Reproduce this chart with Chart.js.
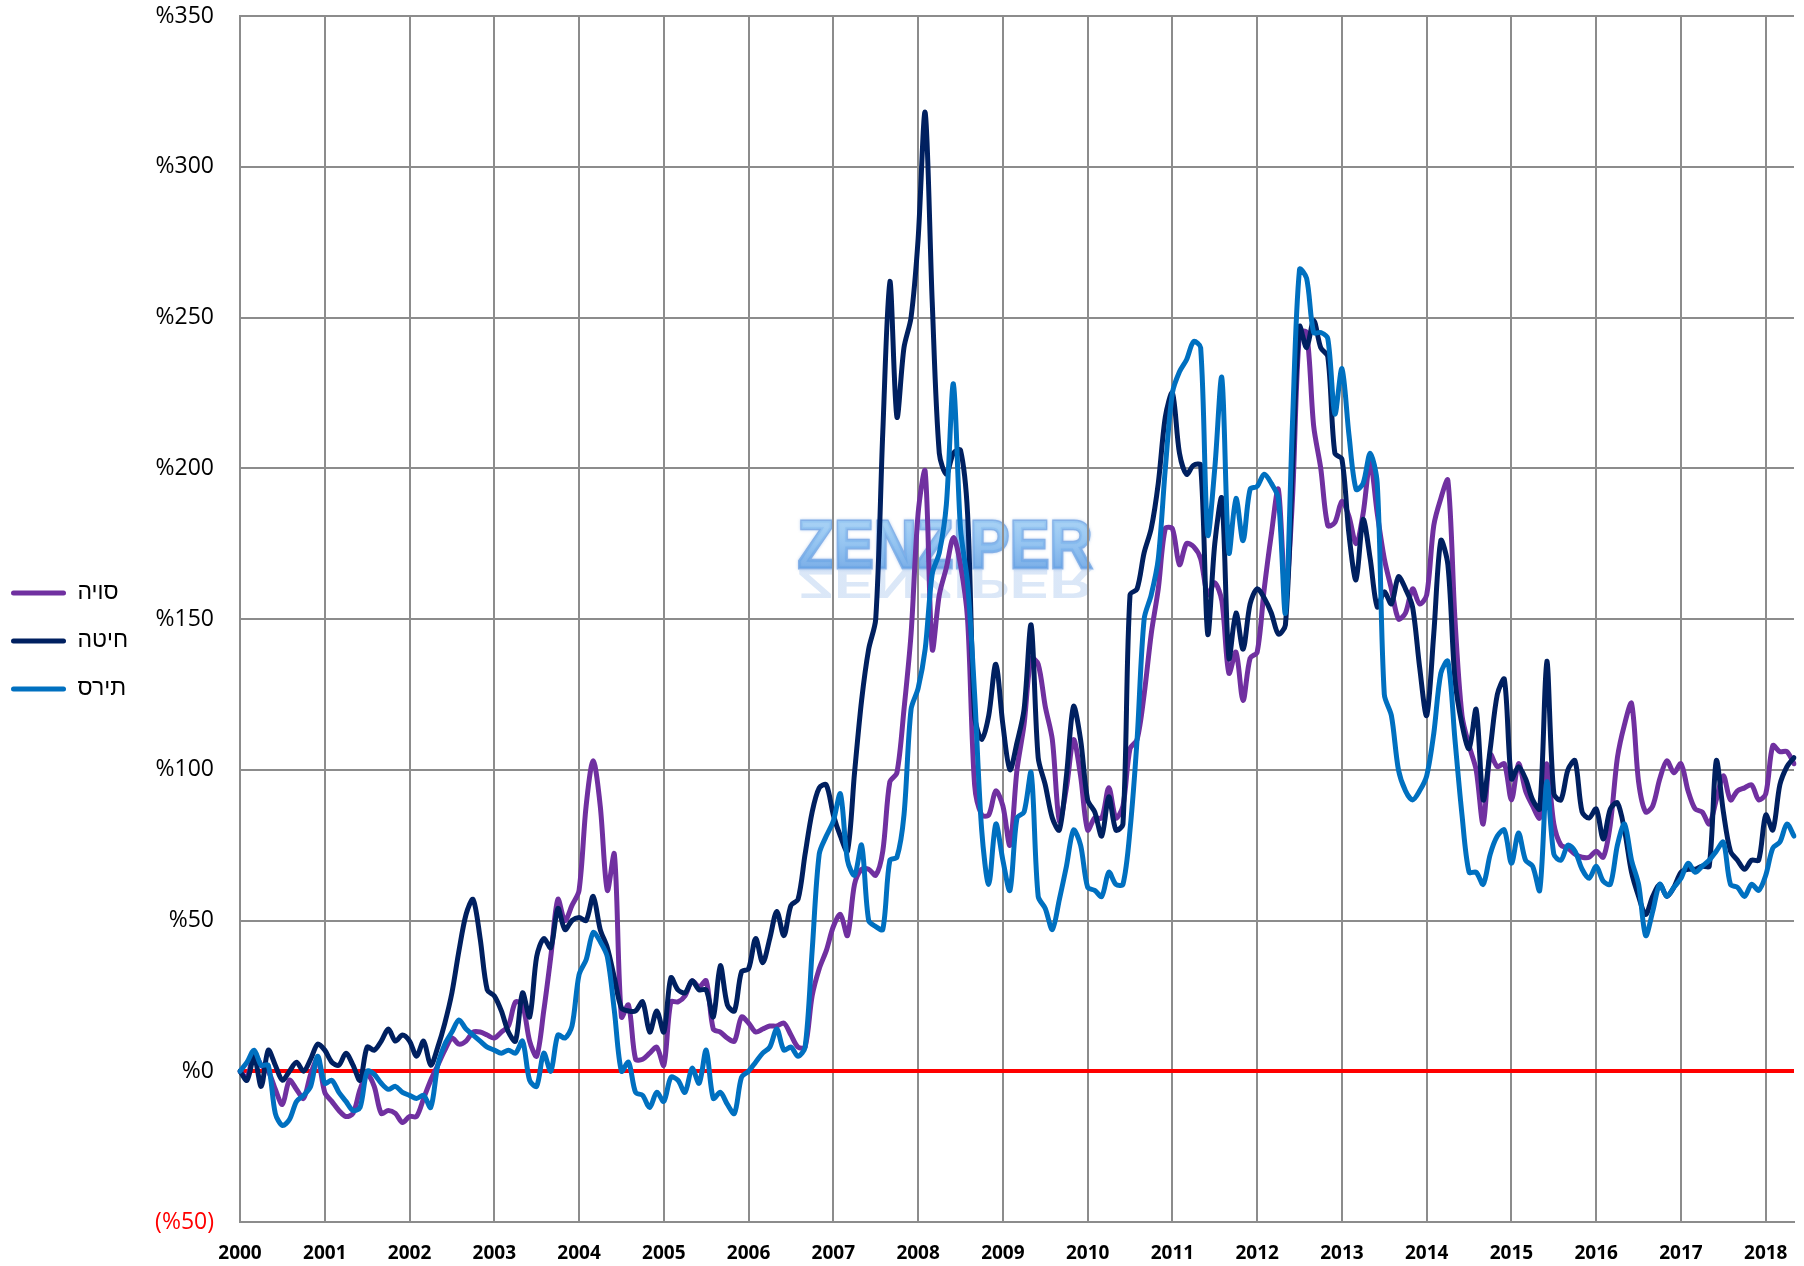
<!DOCTYPE html>
<html>
<head>
<meta charset="utf-8">
<script src="https://cdn.jsdelivr.net/npm/chart.js@4.4.1/dist/chart.umd.min.js"></script>
<style>
  html, body { margin: 0; padding: 0; background: #fff; }
  #wrap { width: 1804px; height: 1266px; position: relative; }
</style>
</head>
<body>
<div id="wrap"><canvas id="pricesChart"></canvas></div>
<script>
// Price change since 2000 (%), monthly, Jan 2000 - May 2018

const years = [2000, 2001, 2002, 2003, 2004, 2005, 2006, 2007, 2008, 2009,
               2010, 2011, 2012, 2013, 2014, 2015, 2016, 2017, 2018];

const soyLabel = 'סויה';
const wheatLabel = 'חיטה';
const cornLabel = 'תירס';

const soy = [
    0, -2, 6, 2, 0, -6, -11, -3, -6, -9, -1, 4,             // 2000
    -7, -10, -13, -15, -14, -6, -1, -5, -14, -13, -14, -17, // 2001
    -15, -15, -9, -3, 2, 7, 11, 9, 10, 13, 13, 12,          // 2002
    11, 13, 15, 23, 22, 10, 5, 20, 38, 57, 50, 55,          // 2003
    60, 88, 103, 88, 60, 72, 18, 22, 4, 4, 6, 8,            // 2004
    2, 23, 23, 25, 30, 28, 30, 14, 13, 11, 10, 18,          // 2005
    16, 13, 14, 15, 15, 16, 12, 8, 8, 25, 34, 40,           // 2006
    48, 52, 45, 62, 67, 67, 65, 73, 96, 99, 120, 145,       // 2007
    185, 199, 140, 158, 167, 177, 168, 150, 95, 85, 85, 93, // 2008
    88, 75, 100, 115, 137, 135, 121, 110, 83, 94, 110, 98,  // 2009
    80, 84, 84, 94, 84, 88, 107, 110, 125, 145, 160, 180,   // 2010
    180, 168, 175, 174, 170, 158, 162, 156, 132, 139, 123, 137, // 2011
    139, 160, 178, 193, 158, 190, 245, 245, 214, 200, 181, 182, // 2012
    189, 184, 175, 185, 202, 185, 170, 160, 150, 152, 160, 155, // 2013
    158, 181, 190, 196, 150, 118, 108, 100, 82, 105, 101, 102,  // 2014
    90, 102, 93, 88, 84, 102, 82, 75, 74, 72, 71, 71,       // 2015
    73, 71, 82, 104, 115, 122, 96, 86, 88, 97, 103, 99,     // 2016
    102, 93, 87, 86, 82, 90, 98, 90, 93, 94, 95, 90,        // 2017
    92, 108, 106, 106, 102                                  // 2018
];

const wheat = [
    0, -3, 5, -5, 7, 2, -3, 0, 3, 0, 4, 9,                  // 2000
    7, 3, 2, 6, 2, -3, 8, 7, 10, 14, 10, 12,                // 2001
    10, 5, 10, 2, 8, 16, 26, 40, 52, 57, 44, 27,            // 2002
    25, 20, 13, 10, 26, 18, 38, 44, 41, 54, 47, 50,         // 2003
    51, 50, 58, 47, 41, 31, 21, 20, 20, 23, 13, 20,         // 2004
    13, 31, 27, 26, 30, 27, 27, 18, 35, 22, 20, 33,         // 2005
    34, 44, 36, 44, 53, 45, 55, 57, 72, 86, 94, 95,         // 2006
    85, 78, 73, 99, 123, 140, 150, 212, 262, 217, 240, 250, // 2007
    276, 318, 255, 205, 198, 205, 206, 185, 118, 110, 118, 135, // 2008
    115, 100, 109, 120, 148, 104, 95, 84, 80, 98, 121, 110, // 2009
    90, 86, 78, 91, 80, 82, 158, 160, 172, 180, 195, 217,   // 2010
    225, 205, 198, 201, 201, 145, 175, 190, 137, 152, 140, 155, // 2011
    160, 157, 152, 145, 148, 200, 247, 240, 249, 240, 237, 205, // 2012
    203, 178, 163, 183, 170, 154, 159, 155, 164, 160, 154, 134, // 2013
    118, 145, 176, 168, 130, 115, 107, 120, 90, 107, 125, 130,  // 2014
    97, 101, 97, 90, 87, 136, 92, 90, 100, 103, 86, 84,     // 2015
    87, 77, 87, 89, 80, 66, 58, 52, 58, 62, 58, 61,         // 2016
    66, 67, 67, 68, 68, 103, 86, 73, 70, 67, 70, 70,        // 2017
    85, 80, 95, 101, 104                                    // 2018
];

const corn = [
    0, 3, 7, 2, 2, -14, -18, -16, -10, -8, -5, 5,           // 2000
    -4, -3, -7, -10, -13, -12, 0, -1, -4, -6, -5, -7,       // 2001
    -8, -9, -8, -12, 2, 9, 13, 17, 14, 12, 10, 8,           // 2002
    7, 6, 7, 6, 10, -3, -5, 6, 0, 12, 11, 15,               // 2003
    32, 37, 46, 43, 38, 20, 0, 3, -7, -8, -12, -7,          // 2004
    -10, -2, -3, -7, 1, -4, 7, -9, -7, -11, -14, -2,        // 2005
    0, 3, 6, 8, 14, 7, 8, 5, 8, 40, 72, 78,                 // 2006
    83, 92, 70, 65, 75, 50, 48, 47, 70, 71, 85, 120,        // 2007
    127, 140, 165, 172, 188, 228, 180, 162, 125, 80, 62, 82, // 2008
    70, 60, 84, 86, 99, 58, 54, 47, 57, 68, 80, 75,         // 2009
    61, 60, 58, 66, 62, 62, 80, 110, 150, 158, 170, 200,    // 2010
    225, 232, 236, 242, 240, 178, 200, 230, 172, 190, 176, 193, // 2011
    194, 198, 195, 190, 152, 215, 266, 263, 245, 245, 243, 218, // 2012
    233, 211, 193, 195, 205, 195, 125, 118, 100, 93, 90, 93,    // 2013
    98, 112, 132, 136, 110, 85, 66, 66, 62, 72, 78, 80,     // 2014
    69, 79, 70, 68, 60, 96, 72, 70, 75, 73, 67, 64,         // 2015
    68, 63, 62, 75, 82, 70, 62, 45, 53, 62, 58, 61,         // 2016
    64, 69, 66, 68, 70, 73, 76, 62, 61, 58, 62, 60,         // 2017
    65, 74, 76, 82, 78                                      // 2018
];

const yTicks = [-50, 0, 50, 100, 150, 200, 250, 300, 350];

// month labels (one per data point)
const months = [];
years.forEach(y => {
    for (let m = 1; m <= 12; m++) months.push(y + '-' + String(m).padStart(2, '0'));
});
months.length = soy.length;

const GRID = '#8c8c8c';
const PLOT_LEFT = 240;     // where the y axis sits
const LAYOUT_LEFT = -14;

// ZENZIPER logo, drawn under the grid and the lines
const watermark = {
    id: 'watermark',
    beforeDraw(chart) {
        const { ctx, chartArea: a } = chart;
        if (!a) return;
        const cx = a.left + (945 - 240) / 1554 * (a.right - a.left);
        const base = a.top + (568 - 16) / 1206 * (a.bottom - a.top);
        const text = 'ZENZIPER';
        ctx.save();
        ctx.font = 'bold 69px "Liberation Sans", Arial, sans-serif';
        ctx.textAlign = 'center';
        ctx.textBaseline = 'alphabetic';
        const sx = 295 / ctx.measureText(text).width;

        // faded reflection
        ctx.save();
        ctx.translate(cx, base + 2);
        ctx.scale(sx, -0.6);
        const rg = ctx.createLinearGradient(0, 0, 0, 45);
        rg.addColorStop(0, 'rgba(110, 160, 225, 0.25)');
        rg.addColorStop(1, 'rgba(255, 255, 255, 0)');
        ctx.fillStyle = rg;
        ctx.fillText(text, 0, 0);
        ctx.restore();

        // main text
        ctx.translate(cx, base);
        ctx.scale(sx, 1);
        const g = ctx.createLinearGradient(0, -50, 0, 0);
        g.addColorStop(0, '#9dcdf4');
        g.addColorStop(0.5, '#84bbef');
        g.addColorStop(1, '#66a2e4');
        ctx.shadowColor = 'rgba(70, 130, 210, 0.5)';
        ctx.shadowBlur = 3;
        ctx.lineWidth = 3;
        ctx.strokeStyle = 'rgba(100, 155, 225, 0.7)';
        ctx.strokeText(text, 0, 0);
        ctx.shadowBlur = 0;
        ctx.fillStyle = g;
        ctx.globalAlpha = 0.85;
        ctx.fillText(text, 0, 0);
        ctx.restore();
    }
};

new Chart(document.getElementById('pricesChart'), {
    type: 'line',
    data: {
        labels: months,
        datasets: [
            { label: cornLabel, data: corn, borderColor: '#0070c0', backgroundColor: '#0070c0' },
            { label: wheatLabel, data: wheat, borderColor: '#002060', backgroundColor: '#002060' },
            { label: soyLabel, data: soy, borderColor: '#7030a0', backgroundColor: '#7030a0' }
        ]
    },
    options: {
        responsive: true,
        maintainAspectRatio: false,
        animation: false,
        layout: {
            padding: { top: 16, right: 10, bottom: 0, left: LAYOUT_LEFT }
        },
        elements: {
            point: { radius: 0 },
            line: { borderWidth: 5, tension: 0.3, borderCapStyle: 'round', borderJoinStyle: 'round' }
        },
        plugins: {
            tooltip: { enabled: false },
            legend: {
                position: 'left',
                align: 'center',
                reverse: true,
                labels: {
                    color: '#000',
                    font: { family: '"Liberation Sans", Arial, sans-serif', size: 23 },
                    boxWidth: 55,
                    boxHeight: 5,
                    padding: 25,
                    useBorderRadius: true,
                    borderRadius: 2.5,
                    generateLabels(chart) {
                        const items = Chart.defaults.plugins.legend.labels.generateLabels(chart);
                        items.forEach(it => {
                            it.lineWidth = 0;
                            it.fillStyle = it.strokeStyle;
                        });
                        return items;
                    }
                }
            }
        },
        scales: {
            x: {
                type: 'category',
                offset: false,
                afterFit(scale) {
                    scale.paddingLeft = 0;
                    scale.paddingRight = 0;
                    scale.height = 44;
                },
                grid: {
                    color: c => (c.index % 12 === 0 ? GRID : 'rgba(0,0,0,0)'),
                    lineWidth: 2,
                    drawTicks: false
                },
                border: { color: GRID, width: 2 },
                ticks: {
                    autoSkip: false,
                    maxRotation: 0,
                    minRotation: 0,
                    padding: 20,
                    color: '#000',
                    font: { family: '"Open Sans", sans-serif', size: 19, weight: 'bold' },
                    callback: (v, i) => (i % 12 === 0 ? months[i].slice(0, 4) : '')
                }
            },
            y: {
                min: yTicks[0],
                max: yTicks[yTicks.length - 1],
                afterFit(scale) {
                    const lw = scale.chart.legend ? scale.chart.legend.width : 0;
                    scale.width = PLOT_LEFT - lw - LAYOUT_LEFT;
                    scale.paddingTop = 0;
                    scale.paddingBottom = 0;
                },
                grid: {
                    color: c => (c.tick && c.tick.value === 0 ? '#ff0000' : GRID),
                    lineWidth: c => (c.tick && c.tick.value === 0 ? 4 : 2),
                    drawTicks: false
                },
                border: { color: GRID, width: 2 },
                ticks: {
                    stepSize: 50,
                    padding: 26,
                    color: c => (c.tick && c.tick.value < 0 ? '#ff0000' : '#000'),
                    font: { family: '"Open Sans", sans-serif', size: 23 },
                    callback: v => (v < 0 ? '(%' + (-v) + ')' : '%' + v)
                }
            }
        }
    },
    plugins: [watermark]
});
</script>
</body>
</html>
